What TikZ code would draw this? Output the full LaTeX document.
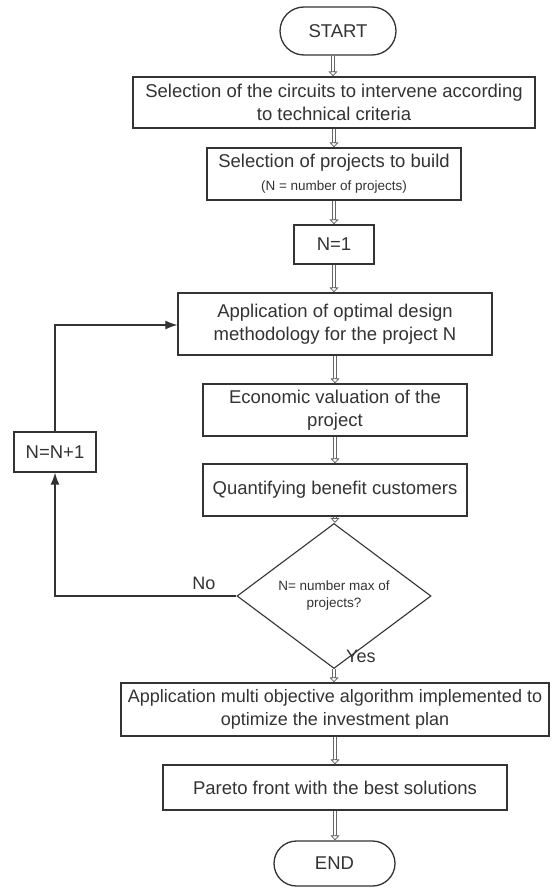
\documentclass[tikz,border=0pt]{standalone}
\usepackage{fontspec}
\setmainfont{Liberation Sans}
\usetikzlibrary{shapes.geometric,shapes.misc,arrows.meta,calc}
\definecolor{ink}{HTML}{333333}
\begin{document}
\begin{tikzpicture}[x=1pt,y=-1pt,
  box/.style={draw=ink,line width=1.3pt,text=ink,inner sep=0pt,align=center,
    font=\fontsize{18.5}{23}\selectfont},
  term/.style={box,rounded rectangle},
  decision/.style={draw=ink,line width=1.1pt,text=ink,diamond,inner sep=1pt,align=center,
    font=\fontsize{13.5}{17}\selectfont},
  dbl/.style={draw=ink!75,line width=0.8pt,double=white,double distance=1.8pt,shorten >=4.5pt},
  dbltip/.style={draw=ink!75,line width=0.8pt,fill=white,
    -{Triangle[open,length=5pt,width=9pt]}},
  loopline/.style={draw=ink,line width=1.2pt,-{Latex[length=12pt,width=9pt]}},
  lbl/.style={text=ink,font=\fontsize{18}{22}\selectfont,inner sep=0pt}]
\useasboundingbox[fill=white] (0,0) rectangle (556,888);

\node[term,minimum width=116pt,minimum height=48pt] (start) at (338,31) {START};
\node[box,minimum width=402pt,minimum height=51pt] (b1) at (334,102.5)
  {Selection of the circuits to intervene according\\to technical criteria};
\node[box,minimum width=254pt,minimum height=52pt] (b2) at (334,174)
  {Selection of projects to build\\{\fontsize{13.5}{17}\selectfont (N = number of projects)}};
\node[box,minimum width=80pt,minimum height=39pt] (n1) at (334,244.5) {N=1};
\node[box,minimum width=314pt,minimum height=62pt] (b4) at (335,324)
  {Application of optimal design\\methodology for the project N};
\node[box,minimum width=264pt,minimum height=52pt] (b5) at (335,410)
  {Economic valuation of the\\project};
\node[box,minimum width=264pt,minimum height=52pt] (b6) at (335,490)
  {Quantifying benefit customers};
\node[decision,minimum width=194pt,minimum height=103pt] (dec) at (334,596)
  {N= number max of\\projects?};
\node[box,minimum width=428pt,minimum height=53pt,font=\fontsize{18}{23}\selectfont] (b7) at (335,709.5)
  {Application multi objective algorithm implemented to\\optimize the investment plan};
\node[box,minimum width=344pt,minimum height=45pt] (b8) at (335,787.5)
  {Pareto front with the best solutions};
\node[term,minimum width=121pt,minimum height=45pt] (end) at (334.5,863.5) {END};
\node[box,minimum width=82pt,minimum height=40pt] (inc) at (55,452) {N=N+1};

\node[lbl,anchor=west] (yes) at (346,656) {Yes};
\node[lbl] (no) at (204,583) {No};

\coordinate (s0) at ($(start.south)+(-5,0)$);
\coordinate (t0) at (s0 |- b1.north);
\coordinate (s1) at (b1.south);  \coordinate (t1) at (b1.south |- b2.north);
\coordinate (s2) at (b2.south);  \coordinate (t2) at (b2.south |- n1.north);
\coordinate (s3) at (n1.south);  \coordinate (t3) at (n1.south |- b4.north);
\coordinate (s4) at (b4.south);  \coordinate (t4) at (b4.south |- b5.north);
\coordinate (s5) at (b5.south);  \coordinate (t5) at (b5.south |- b6.north);
\coordinate (s6) at (b6.south);  \coordinate (t6) at (b6.south |- dec.north);
\coordinate (s7) at (dec.south); \coordinate (t7) at (dec.south |- b7.north);
\coordinate (s8) at (b7.south);  \coordinate (t8) at (b7.south |- b8.north);
\coordinate (s9) at (b8.south);  \coordinate (t9) at (b8.south |- end.north);
\foreach \i in {0,...,9}{
  \draw[dbl] (s\i) -- (t\i);
  \draw[dbltip] ($(t\i)+(0,-5.2)$) -- (t\i);
}

\draw[loopline] (dec.west) -- (dec.west -| inc.south) -- (inc.south);
\draw[loopline] (inc.north) |- ($(b4.west)+(0,1)$);
\end{tikzpicture}
\end{document}
